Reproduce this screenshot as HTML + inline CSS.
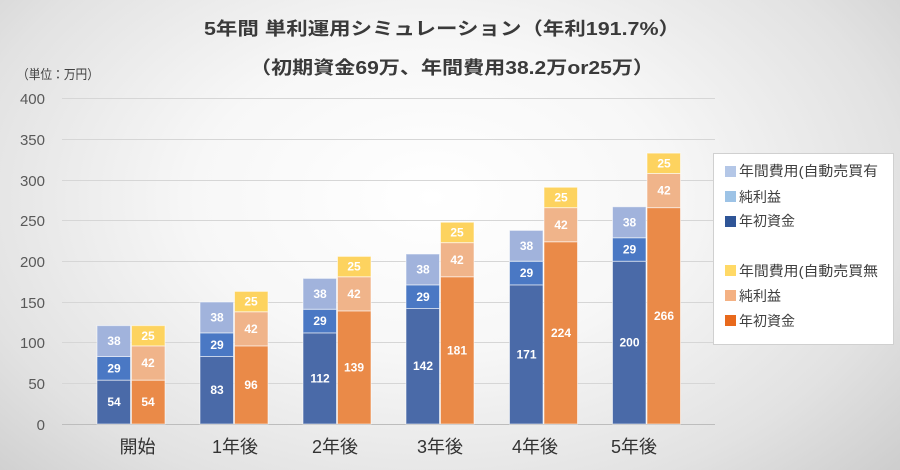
<!DOCTYPE html>
<html><head><meta charset="utf-8">
<style>
html,body{margin:0;padding:0;}
body{width:900px;height:470px;overflow:hidden;background:radial-gradient(ellipse 75% 95% at 48% 42%, #ffffff 0%, #f7f7f7 35%, #e2e2e2 70%, #c6c6c6 100%);}
svg{display:block;font-family:"Liberation Sans","Noto Sans CJK JP",sans-serif;}
</style></head>
<body>
<svg width="900" height="470" viewBox="0 0 900 470" xmlns="http://www.w3.org/2000/svg">
  <!-- titles -->
  <text x="204" y="35" font-size="18" font-weight="bold" fill="#3a3a3a" textLength="476" lengthAdjust="spacingAndGlyphs">5年間 単利運用シミュレーション（年利191.7%）</text>
  <text x="250" y="74" font-size="18" font-weight="bold" fill="#3a3a3a" textLength="404" lengthAdjust="spacingAndGlyphs">（初期資金69万、年間費用38.2万or25万）</text>
  <text x="17" y="79" font-size="13" fill="#404040" textLength="82" lengthAdjust="spacingAndGlyphs">（単位：万円）</text>

  <!-- gridlines -->
  <g stroke="#d6d6d6" stroke-width="1">
    <line x1="62" x2="715" y1="98.5" y2="98.5"/>
    <line x1="62" x2="715" y1="139.5" y2="139.5"/>
    <line x1="62" x2="715" y1="180.5" y2="180.5"/>
    <line x1="62" x2="715" y1="220.5" y2="220.5"/>
    <line x1="62" x2="715" y1="261.5" y2="261.5"/>
    <line x1="62" x2="715" y1="302.5" y2="302.5"/>
    <line x1="62" x2="715" y1="342.5" y2="342.5"/>
    <line x1="62" x2="715" y1="383.5" y2="383.5"/>
  </g>
  <line x1="62" x2="715" y1="424.5" y2="424.5" stroke="#bdbdbd" stroke-width="1"/>

  <!-- y tick labels -->
  <g font-size="15" fill="#595959" text-anchor="end">
    <text x="45" y="104">400</text>
    <text x="45" y="145">350</text>
    <text x="45" y="186">300</text>
    <text x="45" y="226">250</text>
    <text x="45" y="267">200</text>
    <text x="45" y="308">150</text>
    <text x="45" y="348">100</text>
    <text x="45" y="389">50</text>
    <text x="45" y="430">0</text>
  </g>

  <!-- bars (value units) -->
  <g transform="translate(0,424) scale(1,-0.8135)" stroke="#ffffff" stroke-opacity="0.55" stroke-width="1">
    <!-- blue -->
    <g>
      <rect x="97" y="0" width="33.5" height="54" fill="#4a6aa8" vector-effect="non-scaling-stroke"/>
      <rect x="97" y="54" width="33.5" height="29" fill="#4a78c4" vector-effect="non-scaling-stroke"/>
      <rect x="97" y="83" width="33.5" height="38" fill="#a1b3dc" vector-effect="non-scaling-stroke"/>

      <rect x="200" y="0" width="33.5" height="83" fill="#4a6aa8" vector-effect="non-scaling-stroke"/>
      <rect x="200" y="83" width="33.5" height="29" fill="#4a78c4" vector-effect="non-scaling-stroke"/>
      <rect x="200" y="112" width="33.5" height="38" fill="#a1b3dc" vector-effect="non-scaling-stroke"/>

      <rect x="303" y="0" width="33.5" height="112" fill="#4a6aa8" vector-effect="non-scaling-stroke"/>
      <rect x="303" y="112" width="33.5" height="29" fill="#4a78c4" vector-effect="non-scaling-stroke"/>
      <rect x="303" y="141" width="33.5" height="38" fill="#a1b3dc" vector-effect="non-scaling-stroke"/>

      <rect x="406" y="0" width="33.5" height="142" fill="#4a6aa8" vector-effect="non-scaling-stroke"/>
      <rect x="406" y="142" width="33.5" height="29" fill="#4a78c4" vector-effect="non-scaling-stroke"/>
      <rect x="406" y="171" width="33.5" height="38" fill="#a1b3dc" vector-effect="non-scaling-stroke"/>

      <rect x="509.5" y="0" width="33.5" height="171" fill="#4a6aa8" vector-effect="non-scaling-stroke"/>
      <rect x="509.5" y="171" width="33.5" height="29" fill="#4a78c4" vector-effect="non-scaling-stroke"/>
      <rect x="509.5" y="200" width="33.5" height="38" fill="#a1b3dc" vector-effect="non-scaling-stroke"/>

      <rect x="612.5" y="0" width="33.5" height="200" fill="#4a6aa8" vector-effect="non-scaling-stroke"/>
      <rect x="612.5" y="200" width="33.5" height="29" fill="#4a78c4" vector-effect="non-scaling-stroke"/>
      <rect x="612.5" y="229" width="33.5" height="38" fill="#a1b3dc" vector-effect="non-scaling-stroke"/>
    </g>
    <!-- orange -->
    <g>
      <rect x="131.5" y="0" width="33.5" height="54" fill="#ea8a48" vector-effect="non-scaling-stroke"/>
      <rect x="131.5" y="54" width="33.5" height="42" fill="#f0b48a" vector-effect="non-scaling-stroke"/>
      <rect x="131.5" y="96" width="33.5" height="25" fill="#fdd35f" vector-effect="non-scaling-stroke"/>

      <rect x="234.5" y="0" width="33.5" height="96" fill="#ea8a48" vector-effect="non-scaling-stroke"/>
      <rect x="234.5" y="96" width="33.5" height="42" fill="#f0b48a" vector-effect="non-scaling-stroke"/>
      <rect x="234.5" y="138" width="33.5" height="25" fill="#fdd35f" vector-effect="non-scaling-stroke"/>

      <rect x="337.5" y="0" width="33.5" height="139" fill="#ea8a48" vector-effect="non-scaling-stroke"/>
      <rect x="337.5" y="139" width="33.5" height="42" fill="#f0b48a" vector-effect="non-scaling-stroke"/>
      <rect x="337.5" y="181" width="33.5" height="25" fill="#fdd35f" vector-effect="non-scaling-stroke"/>

      <rect x="440.5" y="0" width="33.5" height="181" fill="#ea8a48" vector-effect="non-scaling-stroke"/>
      <rect x="440.5" y="181" width="33.5" height="42" fill="#f0b48a" vector-effect="non-scaling-stroke"/>
      <rect x="440.5" y="223" width="33.5" height="25" fill="#fdd35f" vector-effect="non-scaling-stroke"/>

      <rect x="544" y="0" width="33.5" height="224" fill="#ea8a48" vector-effect="non-scaling-stroke"/>
      <rect x="544" y="224" width="33.5" height="42" fill="#f0b48a" vector-effect="non-scaling-stroke"/>
      <rect x="544" y="266" width="33.5" height="25" fill="#fdd35f" vector-effect="non-scaling-stroke"/>

      <rect x="647" y="0" width="33.5" height="266" fill="#ea8a48" vector-effect="non-scaling-stroke"/>
      <rect x="647" y="266" width="33.5" height="42" fill="#f0b48a" vector-effect="non-scaling-stroke"/>
      <rect x="647" y="308" width="33.5" height="25" fill="#fdd35f" vector-effect="non-scaling-stroke"/>
    </g>
  </g>

  <!-- data labels -->
  <g font-size="12" font-weight="bold" fill="#ffffff" text-anchor="middle">
    <text x="114" y="406">54</text><text x="114" y="372.5">29</text><text x="114" y="345">38</text>
    <text x="217" y="394">83</text><text x="217" y="349">29</text><text x="217" y="321.5">38</text>
    <text x="320" y="382.5">112</text><text x="320" y="325">29</text><text x="320" y="298">38</text>
    <text x="423" y="370">142</text><text x="423" y="301">29</text><text x="423" y="273.5">38</text>
    <text x="526.5" y="358.5">171</text><text x="526.5" y="277">29</text><text x="526.5" y="250">38</text>
    <text x="629.5" y="346.5">200</text><text x="629.5" y="253.5">29</text><text x="629.5" y="226.5">38</text>

    <text x="148" y="406">54</text><text x="148" y="367">42</text><text x="148" y="340">25</text>
    <text x="251" y="389">96</text><text x="251" y="333">42</text><text x="251" y="305.5">25</text>
    <text x="354" y="371.5">139</text><text x="354" y="298">42</text><text x="354" y="270.5">25</text>
    <text x="457" y="354.5">181</text><text x="457" y="264">42</text><text x="457" y="236.5">25</text>
    <text x="561" y="337">224</text><text x="561" y="229">42</text><text x="561" y="201.5">25</text>
    <text x="664" y="320">266</text><text x="664" y="194.5">42</text><text x="664" y="167.5">25</text>
  </g>

  <!-- x labels -->
  <g font-size="18" fill="#333333" text-anchor="middle">
    <text x="137.5" y="453">開始</text>
    <text x="235" y="453">1年後</text>
    <text x="335" y="453">2年後</text>
    <text x="440" y="453">3年後</text>
    <text x="535" y="453">4年後</text>
    <text x="634" y="453">5年後</text>
  </g>

  <!-- legend -->
  <rect x="713.5" y="153.5" width="180" height="191" fill="#ffffff" stroke="#d0d0d0" stroke-width="1"/>
  <g>
    <rect x="725" y="166" width="11" height="11" fill="#b4c7e7"/>
    <rect x="725" y="191" width="11" height="11" fill="#9dc3e6"/>
    <rect x="725" y="216" width="11" height="11" fill="#2f5597"/>
    <rect x="725" y="265" width="11" height="11" fill="#ffd966"/>
    <rect x="725" y="290" width="11" height="11" fill="#f4b183"/>
    <rect x="725" y="315" width="11" height="11" fill="#e8691c"/>
  </g>
  <g font-size="14" fill="#404040">
    <text x="739" y="176" textLength="139" lengthAdjust="spacingAndGlyphs">年間費用(自動売買有</text>
    <text x="739" y="202">純利益</text>
    <text x="739" y="226">年初資金</text>
    <text x="739" y="276" textLength="139" lengthAdjust="spacingAndGlyphs">年間費用(自動売買無</text>
    <text x="739" y="301">純利益</text>
    <text x="739" y="326">年初資金</text>
  </g>
</svg>
</body></html>
